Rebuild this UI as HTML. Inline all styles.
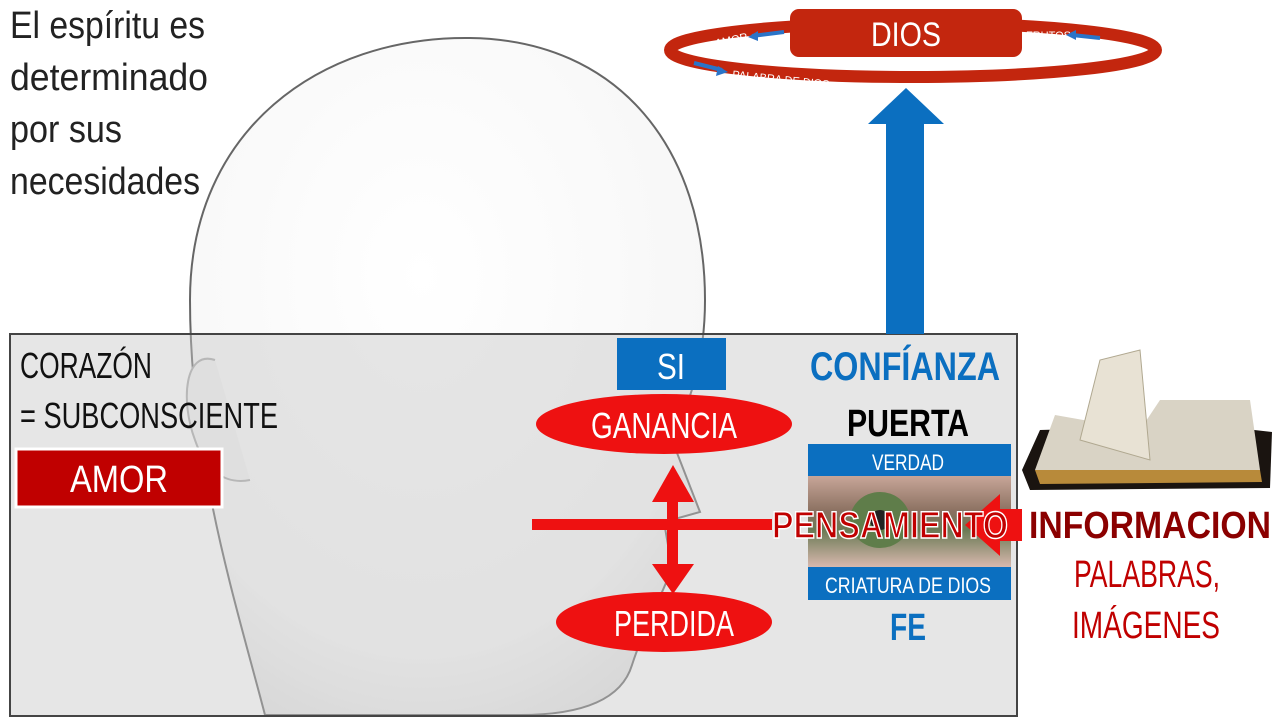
<!DOCTYPE html>
<html><head><meta charset="utf-8"><style>
body{margin:0;background:#fff;}
svg{display:block}
text{font-family:"Liberation Sans",sans-serif;}
</style></head><body>
<svg width="1280" height="720" viewBox="0 0 1280 720">
<defs>
<radialGradient id="hg" cx="0.45" cy="0.35" r="0.75">
<stop offset="0" stop-color="#ffffff"/><stop offset="0.75" stop-color="#f7f7f7"/><stop offset="1" stop-color="#e2e2e2"/>
</radialGradient>
<linearGradient id="eye" x1="0" y1="0" x2="0" y2="1">
<stop offset="0" stop-color="#c9a79a"/><stop offset="0.4" stop-color="#8a7060"/><stop offset="0.6" stop-color="#6b7a55"/><stop offset="1" stop-color="#d8b8ae"/>
</linearGradient>
</defs>
<text x="10" y="38" font-size="38" fill="#222" textLength="195" lengthAdjust="spacingAndGlyphs">El espíritu es</text>
<text x="10" y="90" font-size="38" fill="#222" textLength="198" lengthAdjust="spacingAndGlyphs">determinado</text>
<text x="10" y="142" font-size="38" fill="#222" textLength="112" lengthAdjust="spacingAndGlyphs">por sus</text>
<text x="10" y="194" font-size="38" fill="#222" textLength="190" lengthAdjust="spacingAndGlyphs">necesidades</text>
<path d="M265,715 C235,600 190,460 190,300 C190,130 320,36 470,38 C620,40 705,150 705,300 C705,370 685,410 672,440 L700,512 L664,522 L672,568 C660,600 645,625 632,665 C620,705 570,715 520,715 Z" fill="url(#hg)" stroke="#666" stroke-width="2"/>
<path d="M215,360 C185,350 180,400 195,440 C205,470 225,485 250,480" fill="#f3f3f3" stroke="#aaa" stroke-width="2"/>
<rect x="10" y="334" width="1007" height="382" fill="rgba(200,200,200,0.45)" stroke="#444" stroke-width="2"/>
<rect x="886" y="122" width="38" height="212" fill="#0b6fc0"/>
<polygon points="868,124 944,124 906,88" fill="#0b6fc0"/>
<ellipse cx="913" cy="50" rx="243" ry="27" fill="none" stroke="#c3260e" stroke-width="12"/>
<rect x="790" y="9" width="232" height="48" rx="9" fill="#c3260e"/>
<text x="906" y="46" font-size="34" fill="#fff" text-anchor="middle" textLength="70" lengthAdjust="spacingAndGlyphs">DIOS</text>
<text x="716" y="47" font-size="11" fill="#fff" transform="rotate(-12 716 47)">AMOR</text>
<line x1="784" y1="32" x2="752" y2="36" stroke="#2a74c8" stroke-width="4"/>
<polygon points="748,37 758,31 758,41" fill="#2a74c8"/>
<line x1="694" y1="63" x2="722" y2="70" stroke="#2a74c8" stroke-width="4"/>
<polygon points="728,72 718,66 716,76" fill="#2a74c8"/>
<text x="732" y="78" font-size="11" fill="#fff" transform="rotate(6 732 78)">PALABRA DE DIOS</text>
<text x="1026" y="39" font-size="11" fill="#fff">FRUTOS</text>
<line x1="1100" y1="38" x2="1072" y2="35" stroke="#2a74c8" stroke-width="4"/>
<polygon points="1066,35 1076,30 1076,40" fill="#2a74c8"/>
<text x="20" y="378" font-size="36" fill="#111" textLength="132" lengthAdjust="spacingAndGlyphs">CORAZÓN</text>
<text x="20" y="428" font-size="36" fill="#111" textLength="258" lengthAdjust="spacingAndGlyphs">= SUBCONSCIENTE</text>
<rect x="16" y="449" width="206" height="58" fill="#c00000" stroke="#fff" stroke-width="3"/>
<text x="119" y="492" font-size="38" fill="#fff" text-anchor="middle" textLength="98" lengthAdjust="spacingAndGlyphs">AMOR</text>
<rect x="617" y="338" width="109" height="52" fill="#0b6fc0"/>
<text x="671" y="379" font-size="36" fill="#fff" text-anchor="middle" textLength="28" lengthAdjust="spacingAndGlyphs">SI</text>
<ellipse cx="664" cy="424" rx="128" ry="30" fill="#ee1111"/>
<text x="664" y="438" font-size="36" fill="#fff" text-anchor="middle" textLength="146" lengthAdjust="spacingAndGlyphs">GANANCIA</text>
<ellipse cx="664" cy="622" rx="108" ry="30" fill="#ee1111"/>
<text x="674" y="636" font-size="36" fill="#fff" text-anchor="middle" textLength="120" lengthAdjust="spacingAndGlyphs">PERDIDA</text>
<rect x="532" y="519" width="240" height="11" fill="#ee1111"/>
<rect x="667" y="500" width="11" height="68" fill="#ee1111"/>
<polygon points="652,502 694,502 673,465" fill="#ee1111"/>
<polygon points="652,564 694,564 673,594" fill="#ee1111"/>
<text x="905" y="380" font-size="40" font-weight="bold" fill="#0b6fc0" text-anchor="middle" textLength="190" lengthAdjust="spacingAndGlyphs">CONFÍANZA</text>
<text x="908" y="436" font-size="38" font-weight="bold" fill="#000" text-anchor="middle" textLength="122" lengthAdjust="spacingAndGlyphs">PUERTA</text>
<rect x="808" y="475" width="203" height="92" fill="url(#eye)"/>
<ellipse cx="880" cy="520" rx="30" ry="28" fill="#5f7d4a"/>
<circle cx="880" cy="520" r="10" fill="#222"/>
<rect x="808" y="444" width="203" height="32" fill="#0b6fc0"/>
<text x="908" y="470" font-size="22" fill="#fff" text-anchor="middle" textLength="72" lengthAdjust="spacingAndGlyphs">VERDAD</text>
<rect x="808" y="567" width="203" height="33" fill="#0b6fc0"/>
<text x="908" y="593" font-size="22" fill="#fff" text-anchor="middle" textLength="166" lengthAdjust="spacingAndGlyphs">CRIATURA DE DIOS</text>
<text x="908" y="640" font-size="38" font-weight="bold" fill="#0b6fc0" text-anchor="middle" textLength="36" lengthAdjust="spacingAndGlyphs">FE</text>
<rect x="990" y="509" width="32" height="32" fill="#ee1111"/>
<polygon points="1000,494 1000,556 965,525" fill="#ee1111"/>
<text x="890" y="538" font-size="38" font-weight="bold" fill="#c00000" stroke="#fff" stroke-width="1.5" text-anchor="middle" textLength="236" lengthAdjust="spacingAndGlyphs">PENSAMIENTO</text>
<path d="M1022,470 L1040,430 L1210,425 L1272,432 L1270,488 L1030,490 Z" fill="#1a1410"/>
<path d="M1035,470 L1055,415 L1140,430 L1160,400 L1250,400 L1260,470 L1140,478 Z" fill="#d9d3c5"/>
<path d="M1080,440 L1100,360 L1140,350 L1150,460 Z" fill="#e8e2d4" stroke="#b0a890"/>
<path d="M1035,470 L1260,470 L1262,482 L1040,484 Z" fill="#b88a3a"/>
<text x="1150" y="538" font-size="38" font-weight="bold" fill="#8b0000" text-anchor="middle" textLength="242" lengthAdjust="spacingAndGlyphs">INFORMACION</text>
<text x="1147" y="587" font-size="38" fill="#c00000" text-anchor="middle" textLength="146" lengthAdjust="spacingAndGlyphs">PALABRAS,</text>
<text x="1146" y="638" font-size="38" fill="#c00000" text-anchor="middle" textLength="148" lengthAdjust="spacingAndGlyphs">IMÁGENES</text>
</svg>
</body></html>
